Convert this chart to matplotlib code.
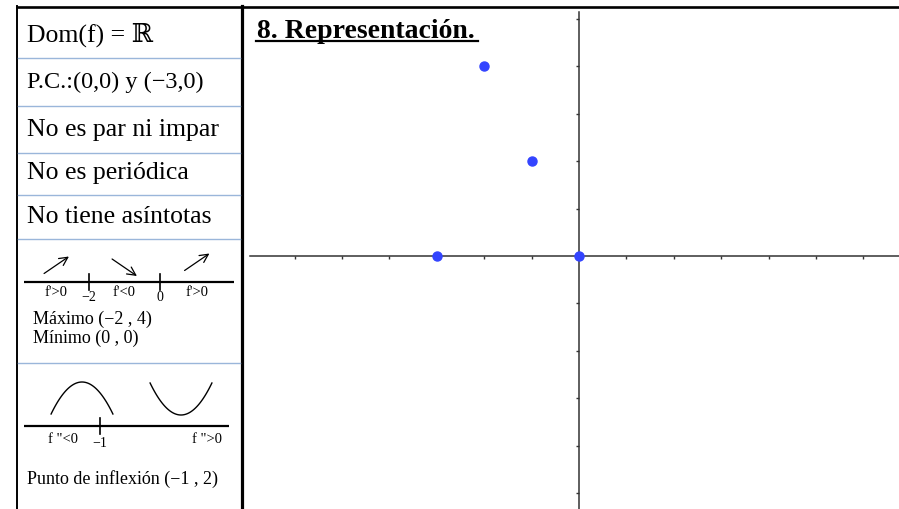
import numpy as np
import matplotlib.pyplot as plt

plt.rcParams['font.family'] = ['Liberation Serif', 'DejaVu Serif']

# data
pts_x = [-3, -2, -1, 0]
pts_y = [0, 4, 2, 0]
crit_x = [-2, 0]          # f' = 0
mono_signs = ["f'>0", "f'<0", "f'>0"]
mono_dirs = [1, -1, 1]    # up / down arrows
infl_x = -1
conc_labels = ['f "<0', 'f ">0']
rows = ["Dom(f) = \u211d", "P.C.:(0,0) y (\u22123,0)", "No es par ni impar",
        "No es peri\u00f3dica", "No tiene as\u00edntotas"]
extrema = ["M\u00e1ximo (\u22122 , 4)", "M\u00ednimo (0 , 0)"]
infl_text = "Punto de inflexi\u00f3n (\u22121 , 2)"
title = "8. Representaci\u00f3n."

W, H = 899, 510
fig = plt.figure(figsize=(W / 100, H / 100), dpi=100)

# background layer in pixel coordinates (table frame + texts)
bg = fig.add_axes([0, 0, 1, 1])
bg.set_xlim(0, W)
bg.set_ylim(H, 0)
bg.axis('off')

bg.plot([16, W], [7.5, 7.5], color='black', lw=1.9, solid_capstyle='butt')
bg.plot([17, 17], [7, H], color='black', lw=1.4)
bg.plot([241.5, 241.5], [7, H], color='black', lw=2.3)
for yy in [58.5, 106.5, 153.5, 195.5, 239.5, 363.5]:
    bg.plot([18, 240], [yy, yy], color='#9ab6da', lw=1.0)

row_y = [35, 82, 130, 173, 217]
row_fs = [18.5, 17.5, 18.5, 18.5, 18.5]
for txt, yy, fs in zip(rows, row_y, row_fs):
    bg.text(27, yy, txt, fontsize=fs, va='center', ha='left')

bg.text(33, 319, extrema[0], fontsize=13, va='center')
bg.text(33, 338, extrema[1], fontsize=13, va='center')
bg.text(27, 479, infl_text, fontsize=13, va='center')

bg.text(257, 38, title, fontsize=20, fontweight='bold', va='baseline', ha='left')
bg.plot([256, 478], [42, 42], color='black', lw=1.6)

# monotonicity sign chart
m = fig.add_axes([24 / W, (H - 305) / H, 210 / W, 60 / H])
m.axis('off')
mx0, mx1 = (24 - 160) / 35.5, (234 - 160) / 35.5
m.set_xlim(mx0, mx1)
m.set_ylim(305, 245)
m.plot([mx0, mx1], [283, 283], color='black', lw=1.6)
edges = [mx0] + crit_x + [mx1]
for cx in crit_x:
    m.plot([cx, cx], [275, 291], color='black', lw=1.2)
    m.text(cx, 298, str(cx).replace('-', '\u2212'), fontsize=10, ha='center', va='center')
arrow_y = [266, 268.5, 263]
for i in range(3):
    mid = (edges[i] + edges[i + 1]) / 2
    d = mono_dirs[i]
    m.annotate('', xy=(mid + 0.35, arrow_y[i] - 8.5 * d),
               xytext=(mid - 0.35, arrow_y[i] + 8.5 * d),
               arrowprops=dict(arrowstyle='->', lw=0.9, mutation_scale=15, color='black',
                               shrinkA=0, shrinkB=0))
    m.text(mid, 293, mono_signs[i], fontsize=10.5, ha='center', va='center')

# concavity sign chart
c = fig.add_axes([24 / W, (H - 450) / H, 205 / W, 80 / H])
c.axis('off')
cx0, cx1 = (24 - 130) / 30, (229 - 130) / 30
c.set_xlim(cx0, cx1)
c.set_ylim(450, 370)
c.plot([cx0, cx1], [427, 427], color='black', lw=1.6)
c.plot([infl_x, infl_x], [419, 435], color='black', lw=1.2)
c.text(infl_x, 444, '\u22121', fontsize=10, ha='center', va='center')
t = np.linspace(-1, 1, 60)
hw = 1.03
c.plot(infl_x - 0.6 + hw * t, 415 - 32 * (1 - t ** 2), color='black', lw=1.0)
c.plot(infl_x + 2.7 + hw * t, 384 + 32 * (1 - t ** 2), color='black', lw=1.0)
c.text(infl_x - 1.23, 440, conc_labels[0], fontsize=10.5, ha='center', va='center')
c.text(infl_x + 3.57, 440, conc_labels[1], fontsize=10.5, ha='center', va='center')

# graph with axes through the origin
ux = 47.4
ax = fig.add_axes([250 / W, 0, 649 / W, 497 / H])
ax.set_xlim((250 - 579) / ux, (899 - 579) / ux)
ax.set_ylim((257 - 510) / ux, (257 - 13) / ux)
for s in ['top', 'right']:
    ax.spines[s].set_visible(False)
ax.spines['left'].set_position(('data', 0))
ax.spines['bottom'].set_position(('data', 0))
for s in ['left', 'bottom']:
    ax.spines[s].set_color('#333333')
    ax.spines[s].set_linewidth(1.1)
ax.set_xticks(range(-6, 7))
ax.set_yticks(range(-5, 6))
ax.tick_params(direction='out', length=2.5, width=1.0, color='#333333',
               labelbottom=False, labelleft=False)
ax.patch.set_alpha(0)
ax.plot(pts_x, pts_y, 'o', color='#3344ff', markersize=6.5, zorder=5, clip_on=False)

fig.savefig('out.png', dpi=100)
